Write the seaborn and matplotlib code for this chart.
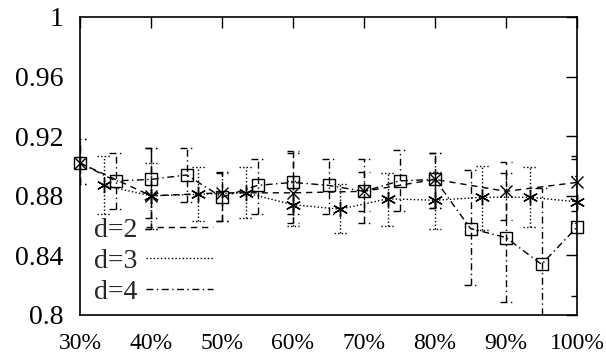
import numpy as np
import pandas as pd
import matplotlib
matplotlib.use('Agg')
import matplotlib.pyplot as plt
from matplotlib.lines import Line2D
import seaborn as sns

# d=2 : dashed, x markers, every 10%
pct_d2 = [30, 40, 50, 60, 70, 80, 90, 100]
acc_d2 = [0.902, 0.880, 0.882, 0.882, 0.883, 0.891, 0.883, 0.889]
lo_d2 = [0.888, 0.858, 0.863, 0.862, 0.870, 0.872, 0.864, 0.870]
hi_d2 = [0.918, 0.912, 0.895, 0.910, 0.896, 0.909, 0.903, 0.905]

# d=3 : dotted, asterisks, every 6.67%
pct_d3 = [33.33, 40, 46.67, 53.33, 60, 66.67, 73.33, 80, 86.67, 93.33, 100]
acc_d3 = [0.887, 0.880, 0.881, 0.882, 0.874, 0.871, 0.878, 0.877, 0.879, 0.879, 0.876]
lo_d3 = [0.868, 0.858, 0.863, 0.865, 0.860, 0.855, 0.860, 0.858, 0.857, 0.859, 0.862]
hi_d3 = [0.907, 0.902, 0.899, 0.899, 0.890, 0.888, 0.895, 0.896, 0.900, 0.899, 0.893]

# d=4 : dash-dot, squares, every 5%
pct_d4 = [30, 35, 40, 45, 50, 55, 60, 65, 70, 75, 80, 85, 90, 95, 100]
acc_d4 = [0.902, 0.890, 0.891, 0.894, 0.879, 0.887, 0.889, 0.887, 0.883, 0.890,
          0.891, 0.858, 0.852, 0.834, 0.859]
lo_d4 = [0.888, 0.871, 0.865, 0.876, 0.863, 0.868, 0.868, 0.868, 0.862, 0.870,
         0.872, 0.820, 0.809, 0.790, 0.813]
hi_d4 = [0.918, 0.909, 0.912, 0.912, 0.896, 0.905, 0.909, 0.905, 0.905, 0.911,
         0.909, 0.897, 0.895, 0.885, 0.907]

x_ticks = [30, 40, 50, 60, 70, 80, 90, 100]
x_labels = ['30%', '40%', '50%', '60%', '70%', '80%', '90%', '100%']
y_ticks = [0.8, 0.84, 0.88, 0.92, 0.96, 1.0]
y_labels = ['0.8', '0.84', '0.88', '0.92', '0.96', '1']

sns.set_style('white')
plt.rcParams['font.family'] = ['Liberation Serif', 'DejaVu Serif']

fig = plt.figure(figsize=(6.06, 3.61), dpi=100)
ax = fig.add_axes([80 / 606, 46 / 361, 497 / 606, 298 / 361])

series = [
    ('d=2', pct_d2, acc_d2, lo_d2, hi_d2, (0, (4.5, 3.5)), 'x', 9),
    ('d=3', pct_d3, acc_d3, lo_d3, hi_d3, (0, (1, 1.6)), (6, 2, 0), 11),
    ('d=4', pct_d4, acc_d4, lo_d4, hi_d4, (0, (5, 2.5, 1, 2.5)), 's', 9),
]

handles = []
for name, xs, ys, lo, hi, ls, mk, ms in series:
    df = pd.DataFrame({'pct': xs, 'acc': ys})
    sns.lineplot(data=df, x='pct', y='acc', ax=ax, color='black', lw=1,
                 linestyle=ls, marker=mk, markersize=ms, markerfacecolor='none',
                 markeredgecolor='black', markeredgewidth=1, clip_on=False,
                 zorder=3)
    xs = np.array(xs)
    ax.vlines(xs, lo, hi, colors='black', linestyles=[ls], lw=1, zorder=2)
    ax.hlines(lo, xs - 0.9, xs + 0.9, colors='black', linestyles=[ls], lw=1, zorder=2)
    ax.hlines(hi, xs - 0.9, xs + 0.9, colors='black', linestyles=[ls], lw=1, zorder=2)
    handles.append(Line2D([], [], color='black', lw=1, linestyle=ls))

ax.set_xlim(30, 100)
ax.set_ylim(0.8, 1.0)
ax.set_xticks(x_ticks)
ax.set_xticklabels(x_labels)
ax.set_yticks(y_ticks)
ax.set_yticklabels(y_labels)
ax.set_xlabel('')
ax.set_ylabel('')
ax.tick_params(direction='in', length=8, width=1, top=True, right=True,
               colors='black')
ax.tick_params(axis='x', labelsize=17, pad=13)
ax.tick_params(axis='y', labelsize=20, pad=12)
for sp in ax.spines.values():
    sp.set_visible(True)
    sp.set_color('black')
    sp.set_linewidth(1.2)

ax.legend(handles, ['d=2', 'd=3', 'd=4'], loc='lower left',
          bbox_to_anchor=(-0.005, -0.022), frameon=False, fontsize=20,
          markerfirst=False, handlelength=2.4, handletextpad=0.3,
          labelspacing=0.2, borderaxespad=0.2)

fig.savefig('out.png', dpi=100)
